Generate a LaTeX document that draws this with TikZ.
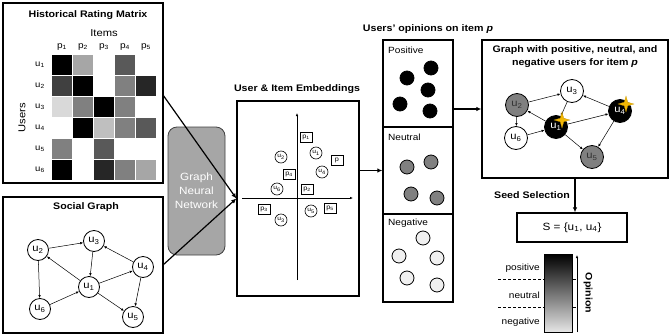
\documentclass[tikz,border=0pt]{standalone}
\usepackage{fontspec}
\setmainfont{Liberation Sans}[FakeStretch=1.12]
\usetikzlibrary{arrows.meta,shapes.geometric}
\definecolor{gold}{HTML}{F2B705}
\tikzset{
 box/.style={draw, line width=1.3pt, inner sep=0pt},
 ttl/.style={font=\bfseries\fontsize{9.5}{11}\selectfont, inner sep=0pt},
 lbl/.style={font=\fontsize{9}{10}\selectfont, inner sep=0pt},
 unode/.style={circle, draw, line width=0.8pt, minimum size=21pt, inner sep=0pt, font=\fontsize{10}{11}\selectfont},
 gnode/.style={circle, draw, line width=0.8pt, minimum size=23pt, inner sep=0pt, font=\fontsize{10}{11}\selectfont},
 garr/.style={-{Latex[length=3pt,width=2.5pt]}, line width=0.5pt},
 bigarr/.style={-{Latex[length=5pt,width=4.5pt]}, line width=1.2pt},
 ecirc/.style={circle, draw, line width=0.6pt, minimum size=12pt, inner sep=0pt, font=\fontsize{6}{6}\selectfont},
 esq/.style={rectangle, draw, line width=0.6pt, minimum width=12pt, minimum height=10pt, inner sep=0pt, font=\fontsize{6.5}{6}\selectfont},
 dotn/.style={circle, draw, line width=0.8pt, minimum size=14pt, inner sep=0pt},
 sparkle/.style={star, star points=4, star point ratio=3.2, fill=gold, draw=gold!80!black, line width=0.2pt, inner sep=0pt, minimum size=16pt},
}
\begin{document}
\begin{tikzpicture}[x=1pt,y=-1pt]
\useasboundingbox (0,0) rectangle (670,335);
% ---------- Historical rating matrix ----------
\node[box, minimum width=160pt, minimum height=180pt] (mat) at (83,93) {};
\node[ttl] (mattl) at (88,15) {Historical Rating Matrix};
\node[lbl, font=\fontsize{10}{11}\selectfont] (items) at (104,33) {Items};
\node[lbl, rotate=90, font=\fontsize{10}{11}\selectfont] (users) at (22,118) {Users};
\foreach \i in {1,...,5}{
  \node[lbl] (p\i) at ({62+21*(\i-1)},47) {p\textsubscript{\i}};
}
\foreach \j in {1,...,6}{
  \node[lbl, font=\fontsize{8.5}{9}\selectfont] (ru\j) at (40,{65+21*(\j-1)}) {u\textsubscript{\j}};
}
\foreach \v [count=\k from 0] in {100,35,0,65,0, 75,100,0,50,85, 15,50,100,50,0, 0,100,25,50,65, 50,0,65,0,0, 100,0,85,50,35}{
  \pgfmathtruncatemacro{\col}{mod(\k,5)}
  \pgfmathtruncatemacro{\row}{int(\k/5)}
  \ifnum\v>0
    \fill[black!\v] ({52+21*\col},{55+21*\row}) rectangle ++(20,20);
  \fi
}
% ---------- Social graph ----------
\node[box, minimum width=160pt, minimum height=136pt] (soc) at (83,265) {};
\node[ttl] (soctl) at (86,207) {Social Graph};
\node[unode] (s2) at (38,250) {u\textsubscript{2}};
\node[unode] (s3) at (94,241) {u\textsubscript{3}};
\node[unode] (s4) at (143,267) {u\textsubscript{4}};
\node[unode] (s1) at (89,287) {u\textsubscript{1}};
\node[unode] (s6) at (40,309) {u\textsubscript{6}};
\node[unode] (s5) at (133,317) {u\textsubscript{5}};
\foreach \a/\b in {s2/s3, s1/s2, s3/s1, s1/s4, s4/s3, s2/s6, s6/s1, s1/s5, s4/s5}{
  \draw[garr] (\a) -- (\b);
}
% ---------- GNN ----------
\node[draw=black!75, fill=black!35, line width=0.8pt, rounded corners=9pt, minimum width=57pt, minimum height=128pt, align=center, text=white, font=\fontsize{10.5}{14}\selectfont] (gnn) at (196.5,191) {Graph\\Neural\\Network};
% ---------- Embeddings ----------
\node[box, minimum width=122pt, minimum height=195pt] (emb) at (298,198.5) {};
\node[ttl] (embtl) at (297,89) {User \& Item Embeddings};
\coordinate (ax0) at (297,280);
\coordinate (ax1) at (297,113);
\coordinate (ay0) at (242,198);
\coordinate (ay1) at (353,198);
\draw[-{Latex[length=3pt,width=2.5pt]}, line width=0.6pt] (ax0) -- (ax1);
\draw[-{Latex[length=3pt,width=2.5pt]}, line width=0.6pt] (ay0) -- (ay1);
\node[esq] (ep1) at (306,137) {p\textsubscript{1}};
\node[ecirc] (eu1) at (316,153) {u\textsubscript{1}};
\node[esq] (ep) at (337,160) {p};
\node[ecirc] (eu2) at (281,157) {u\textsubscript{2}};
\node[esq] (ep4) at (289,174) {p\textsubscript{4}};
\node[ecirc] (eu4) at (322,172) {u\textsubscript{4}};
\node[ecirc] (eu6) at (277,189) {u\textsubscript{6}};
\node[esq] (ep2) at (307,189) {p\textsubscript{2}};
\node[esq] (ep3) at (264,209) {p\textsubscript{3}};
\node[ecirc] (eu5) at (311,211) {u\textsubscript{5}};
\node[esq] (ep5) at (330,208) {p\textsubscript{5}};
\node[ecirc] (eu3) at (281,220) {u\textsubscript{3}};
% arrows into embeddings
\coordinate (m1) at (163,95);
\coordinate (m2) at (163,265);
\draw[bigarr] (m1) -- (emb.west);
\draw[bigarr] (m2) -- (emb.west);
% ---------- Opinions ----------
\node[ttl] (optl) at (428,29) {Users' opinions on item \textit{p}};
\node[box, minimum width=70pt, minimum height=87pt] (pos) at (418,83.5) {};
\node[box, minimum width=70pt, minimum height=87pt] (neu) at (418,170.5) {};
\node[box, minimum width=70pt, minimum height=88pt] (neg) at (418,258) {};
\node[lbl, anchor=west] (posl) at (388,50) {Positive};
\node[lbl, anchor=west] (neul) at (388,137) {Neutral};
\node[lbl, anchor=west] (negl) at (388,223) {Negative};
\foreach \x/\y [count=\n] in {407/78, 431/68, 428/90, 400/104, 430/111}{
  \node[dotn, fill=black] (pd\n) at (\x,\y) {};
}
\foreach \x/\y [count=\n] in {407/167, 431/162, 411/194, 437/198}{
  \node[dotn, fill=black!50] (nd\n) at (\x,\y) {};
}
\foreach \x/\y [count=\n] in {423/238, 399/256, 437/258, 407/278, 437/285}{
  \node[dotn, fill=black!6] (gd\n) at (\x,\y) {};
}
\draw[bigarr] (emb.east |- neu.west) -- (neu.west);
% ---------- Graph with opinions ----------
\node[box, minimum width=186pt, minimum height=138pt] (gbox) at (575,109) {};
\node[ttl, align=center, font=\bfseries\fontsize{9.5}{13}\selectfont] (gtl) at (575,56.5) {Graph with positive, neutral, and\\negative users for item \textit{p}};
\node[gnode, fill=black!50, text=black!80] (g2) at (517,105) {u\textsubscript{2}};
\node[gnode, fill=white] (g3) at (572,91) {u\textsubscript{3}};
\node[gnode, fill=black, text=white] (g4) at (620,111) {u\textsubscript{4}};
\node[gnode, fill=black, text=white] (g1) at (556,127) {u\textsubscript{1}};
\node[gnode, fill=white] (g6) at (516,138) {u\textsubscript{6}};
\node[gnode, fill=black!50, text=black!80] (g5) at (592,157) {u\textsubscript{5}};
\foreach \a/\b in {g2/g3, g1/g2, g3/g1, g1/g4, g4/g3, g2/g6, g6/g1, g1/g5, g4/g5}{
  \draw[garr] (\a) -- (\b);
}
\node[sparkle] (st1) at (562,120) {};
\node[sparkle] (st4) at (626,104) {};
\draw[bigarr] (pos.east |- gbox.west) -- (gbox.west);
% ---------- Seed selection ----------
\node[box, minimum width=110pt, minimum height=29pt, font=\fontsize{10.5}{12}\selectfont] (sbox) at (572,227.5) {S = \{u\textsubscript{1}, u\textsubscript{4}\}};
\draw[bigarr] (gbox.south) -- (gbox.south |- sbox.north);
\node[ttl] (seedl) at (532,195) {Seed Selection};
% ---------- Legend ----------
\coordinate (d1a) at (498,279);
\coordinate (d1b) at (577,279);
\coordinate (d2a) at (498,307);
\coordinate (d2b) at (577,307);
\draw[dashed, line width=0.7pt, dash pattern=on 3pt off 2pt] (d1a) -- (d1b);
\draw[dashed, line width=0.7pt, dash pattern=on 3pt off 2pt] (d2a) -- (d2b);
\node[draw, line width=0.8pt, minimum width=28pt, minimum height=78pt, inner sep=0pt, top color=black, bottom color=black!10] (bar) at (558,293) {};
\node[lbl, anchor=east] (lpos) at (540,268) {positive};
\node[lbl, anchor=east] (lneu) at (540,295) {neutral};
\node[lbl, anchor=east] (lneg) at (540,322) {negative};
\coordinate (oa) at (577,332);
\coordinate (ob) at (577,255);
\draw[-{Latex[length=3pt,width=2.5pt]}, line width=0.6pt] (oa) -- (ob);
\node[ttl, rotate=-90] (opl) at (588,293) {Opinion};
\end{tikzpicture}
\end{document}
